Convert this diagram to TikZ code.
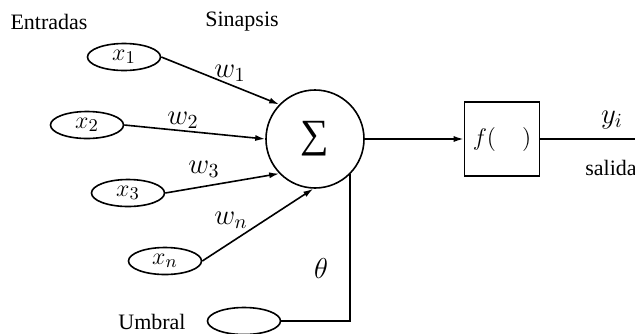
\documentclass[tikz,border=0pt]{standalone}
\usepackage{fontspec}
\setmainfont{Liberation Serif}
\usetikzlibrary{arrows.meta,calc,shapes.geometric}

\begin{document}
\begin{tikzpicture}[
  x=0.5pt,y=-0.5pt,
  font=\fontsize{11}{13}\selectfont,
  >={Latex[length=5pt,width=3pt]},
  inp/.style={draw,ellipse,line width=0.8pt,minimum width=36.5pt,minimum height=13.5pt,inner sep=0pt,font=\fontsize{13}{15}\selectfont},
  wlab/.style={font=\fontsize{14}{16}\selectfont},
  arrow/.style={->,line width=0.8pt},
  wire/.style={line width=0.8pt}
]
\useasboundingbox (0,0) rectangle (635,333);

% headings
\node (ent) at (49,22) {Entradas};
\node (sin) at (242,22) {Sinapsis};

% inputs and threshold
\node[inp] (x1) at (124,57) {$x_1$};
\node[inp] (x2) at (87,125) {$x_2$};
\node[inp] (x3) at (128,193) {$x_3$};
\node[inp] (xn) at (165,261) {$x_n$};
\node[inp] (umb) at (244,321) {};
\node (umblab) at (152,322) {Umbral};

% summation and activation
\node[circle,draw,line width=0.8pt,minimum size=49pt,inner sep=0pt,font=\fontsize{20}{22}\selectfont] (sum) at (315,139) {∑};
\node[draw,line width=0.8pt,minimum width=37.5pt,minimum height=37pt,font=\fontsize{13}{15}\selectfont] (f) at (502,139) {$f(\quad)$};
\coordinate (out) at (635,139);

% weights
\node[wlab] (w1) at (230,73) {$w_1$};
\node[wlab] (w2) at (183,120) {$w_2$};
\node[wlab] (w3) at (204,169) {$w_3$};
\node[wlab] (wn) at (231,220) {$w_n$};
\node[wlab] (th) at (321,268) {$\theta$};
\node[wlab] (yi) at (612,120) {$y_i$};
\node (sal) at (611,168) {salida};

\draw[arrow] (x1.east) -- (sum.136);
\draw[arrow] (x2.east) -- (sum.180);
\draw[arrow] (x3.east) -- (sum.224);
\draw[arrow] (xn.east) -- (sum.268);
\draw[arrow] (sum.east) -- (f.west);
\draw[wire] (f.east) -- (out);
\draw[wire] (sum.-45) |- (umb.east);

\end{tikzpicture}
\end{document}
